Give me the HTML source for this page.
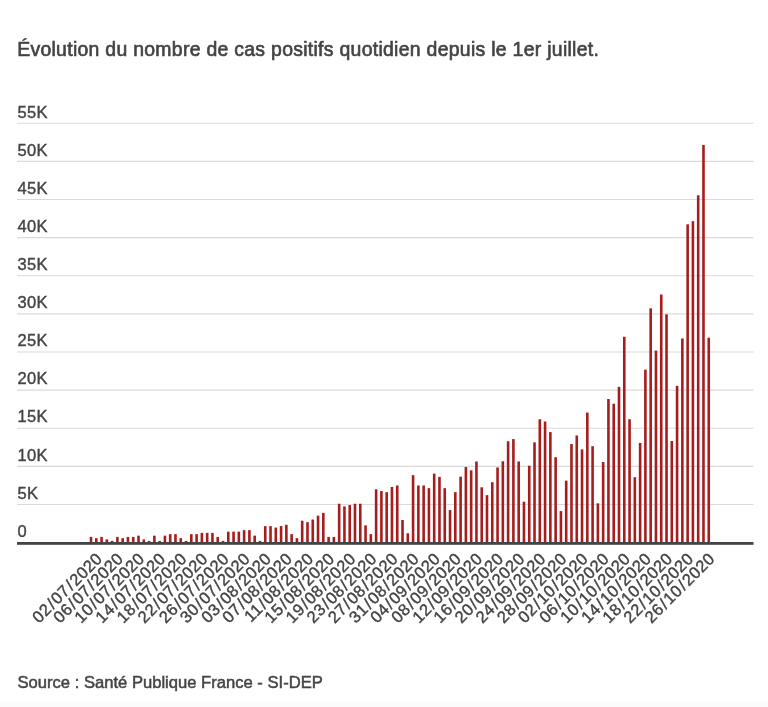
<!DOCTYPE html>
<html lang="fr">
<head>
<meta charset="utf-8">
<title>Évolution du nombre de cas positifs quotidien</title>
<style>
html,body{margin:0;padding:0;background:#fff;}
body{width:768px;height:707px;position:relative;overflow:hidden;font-family:"Liberation Sans",sans-serif;color:#444;}
.title{position:absolute;left:17.2px;top:36.7px;font-size:19.4px;line-height:24px;white-space:nowrap;color:#444;-webkit-text-stroke:0.65px #444;letter-spacing:0.3px;}
.src{position:absolute;left:17.5px;top:672.4px;font-size:16.6px;line-height:22px;white-space:nowrap;color:#444;-webkit-text-stroke:0.5px #444;letter-spacing:0px;}
.band{position:absolute;left:0;top:701px;width:768px;height:6px;background:#fbfbfb;}
svg{position:absolute;left:0;top:0;}
svg text{font-family:"Liberation Sans",sans-serif;fill:#444;stroke:#444;stroke-width:0.4px;}
.yl{font-size:16.5px;letter-spacing:0.3px;}
.xl{font-size:16.5px;}
</style>
</head>
<body>
<div class="title">Évolution du nombre de cas positifs quotidien depuis le 1er juillet.</div>
<svg width="768" height="707" viewBox="0 0 768 707">

<g stroke="#dadada" stroke-width="1.1">
<line x1="17" y1="123.30" x2="753.5" y2="123.30"/>
<line x1="17" y1="161.42" x2="753.5" y2="161.42"/>
<line x1="17" y1="199.54" x2="753.5" y2="199.54"/>
<line x1="17" y1="237.66" x2="753.5" y2="237.66"/>
<line x1="17" y1="275.78" x2="753.5" y2="275.78"/>
<line x1="17" y1="313.90" x2="753.5" y2="313.90"/>
<line x1="17" y1="352.02" x2="753.5" y2="352.02"/>
<line x1="17" y1="390.14" x2="753.5" y2="390.14"/>
<line x1="17" y1="428.26" x2="753.5" y2="428.26"/>
<line x1="17" y1="466.38" x2="753.5" y2="466.38"/>
<line x1="17" y1="504.50" x2="753.5" y2="504.50"/>
</g>
<g class="yl">
<text x="17.5" y="117.50">55K</text>
<text x="17.5" y="155.62">50K</text>
<text x="17.5" y="193.74">45K</text>
<text x="17.5" y="231.86">40K</text>
<text x="17.5" y="269.98">35K</text>
<text x="17.5" y="308.10">30K</text>
<text x="17.5" y="346.22">25K</text>
<text x="17.5" y="384.34">20K</text>
<text x="17.5" y="422.46">15K</text>
<text x="17.5" y="460.58">10K</text>
<text x="17.5" y="498.70">5K</text>
<text x="17.5" y="536.82">0</text>
</g>
<g fill="#a71d1d">
<rect x="89.70" y="536.90" width="2.6" height="5.75"/>
<rect x="94.98" y="538.15" width="2.6" height="4.50"/>
<rect x="100.26" y="536.90" width="2.6" height="5.75"/>
<rect x="105.54" y="539.40" width="2.6" height="3.25"/>
<rect x="110.82" y="540.90" width="2.6" height="1.75"/>
<rect x="116.10" y="536.90" width="2.6" height="5.75"/>
<rect x="121.38" y="538.15" width="2.6" height="4.50"/>
<rect x="126.66" y="536.90" width="2.6" height="5.75"/>
<rect x="131.94" y="536.90" width="2.6" height="5.75"/>
<rect x="137.22" y="535.65" width="2.6" height="7.00"/>
<rect x="142.50" y="539.40" width="2.6" height="3.25"/>
<rect x="147.78" y="540.90" width="2.6" height="1.75"/>
<rect x="153.06" y="535.65" width="2.6" height="7.00"/>
<rect x="158.34" y="540.90" width="2.6" height="1.75"/>
<rect x="163.62" y="535.65" width="2.6" height="7.00"/>
<rect x="168.90" y="534.15" width="2.6" height="8.50"/>
<rect x="174.18" y="534.15" width="2.6" height="8.50"/>
<rect x="179.46" y="538.15" width="2.6" height="4.50"/>
<rect x="184.74" y="540.90" width="2.6" height="1.75"/>
<rect x="190.02" y="534.15" width="2.6" height="8.50"/>
<rect x="195.30" y="534.15" width="2.6" height="8.50"/>
<rect x="200.58" y="532.90" width="2.6" height="9.75"/>
<rect x="205.86" y="532.90" width="2.6" height="9.75"/>
<rect x="211.14" y="532.90" width="2.6" height="9.75"/>
<rect x="216.42" y="536.90" width="2.6" height="5.75"/>
<rect x="221.70" y="540.90" width="2.6" height="1.75"/>
<rect x="226.98" y="531.65" width="2.6" height="11.00"/>
<rect x="232.26" y="531.65" width="2.6" height="11.00"/>
<rect x="237.54" y="531.65" width="2.6" height="11.00"/>
<rect x="242.82" y="530.15" width="2.6" height="12.50"/>
<rect x="248.10" y="530.15" width="2.6" height="12.50"/>
<rect x="253.38" y="535.65" width="2.6" height="7.00"/>
<rect x="258.66" y="540.90" width="2.6" height="1.75"/>
<rect x="263.94" y="526.15" width="2.6" height="16.50"/>
<rect x="269.22" y="526.15" width="2.6" height="16.50"/>
<rect x="274.50" y="527.55" width="2.6" height="15.10"/>
<rect x="279.78" y="526.05" width="2.6" height="16.60"/>
<rect x="285.06" y="524.75" width="2.6" height="17.90"/>
<rect x="290.34" y="534.15" width="2.6" height="8.50"/>
<rect x="295.62" y="538.15" width="2.6" height="4.50"/>
<rect x="300.90" y="520.75" width="2.6" height="21.90"/>
<rect x="306.18" y="522.15" width="2.6" height="20.50"/>
<rect x="311.46" y="519.55" width="2.6" height="23.10"/>
<rect x="316.74" y="515.65" width="2.6" height="27.00"/>
<rect x="322.02" y="512.90" width="2.6" height="29.75"/>
<rect x="327.30" y="536.90" width="2.6" height="5.75"/>
<rect x="332.58" y="536.90" width="2.6" height="5.75"/>
<rect x="337.86" y="503.75" width="2.6" height="38.90"/>
<rect x="343.14" y="506.40" width="2.6" height="36.25"/>
<rect x="348.42" y="505.05" width="2.6" height="37.60"/>
<rect x="353.70" y="503.75" width="2.6" height="38.90"/>
<rect x="358.98" y="503.75" width="2.6" height="38.90"/>
<rect x="364.26" y="525.35" width="2.6" height="17.30"/>
<rect x="369.54" y="534.15" width="2.6" height="8.50"/>
<rect x="374.82" y="489.35" width="2.6" height="53.30"/>
<rect x="380.10" y="491.05" width="2.6" height="51.60"/>
<rect x="385.38" y="492.15" width="2.6" height="50.50"/>
<rect x="390.66" y="486.95" width="2.6" height="55.70"/>
<rect x="395.94" y="485.45" width="2.6" height="57.20"/>
<rect x="401.22" y="519.95" width="2.6" height="22.70"/>
<rect x="406.50" y="533.25" width="2.6" height="9.40"/>
<rect x="411.78" y="475.15" width="2.6" height="67.50"/>
<rect x="417.06" y="485.45" width="2.6" height="57.20"/>
<rect x="422.34" y="485.45" width="2.6" height="57.20"/>
<rect x="427.62" y="488.15" width="2.6" height="54.50"/>
<rect x="432.90" y="473.62" width="2.6" height="69.03"/>
<rect x="438.18" y="476.86" width="2.6" height="65.79"/>
<rect x="443.46" y="488.16" width="2.6" height="54.49"/>
<rect x="448.74" y="510.06" width="2.6" height="32.59"/>
<rect x="454.02" y="492.18" width="2.6" height="50.47"/>
<rect x="459.30" y="476.66" width="2.6" height="65.99"/>
<rect x="464.58" y="466.99" width="2.6" height="75.66"/>
<rect x="469.86" y="470.33" width="2.6" height="72.32"/>
<rect x="475.14" y="461.51" width="2.6" height="81.14"/>
<rect x="480.42" y="487.30" width="2.6" height="55.35"/>
<rect x="485.70" y="495.13" width="2.6" height="47.52"/>
<rect x="490.98" y="482.19" width="2.6" height="60.46"/>
<rect x="496.26" y="467.44" width="2.6" height="75.21"/>
<rect x="501.54" y="461.26" width="2.6" height="81.39"/>
<rect x="506.82" y="441.24" width="2.6" height="101.41"/>
<rect x="512.10" y="439.08" width="2.6" height="103.57"/>
<rect x="517.38" y="461.45" width="2.6" height="81.20"/>
<rect x="522.66" y="501.69" width="2.6" height="40.96"/>
<rect x="527.94" y="465.73" width="2.6" height="76.92"/>
<rect x="533.22" y="442.33" width="2.6" height="100.32"/>
<rect x="538.50" y="419.24" width="2.6" height="123.41"/>
<rect x="543.78" y="421.52" width="2.6" height="121.13"/>
<rect x="549.06" y="432.10" width="2.6" height="110.55"/>
<rect x="554.34" y="457.21" width="2.6" height="85.44"/>
<rect x="559.62" y="511.07" width="2.6" height="31.58"/>
<rect x="564.90" y="480.67" width="2.6" height="61.98"/>
<rect x="570.18" y="444.07" width="2.6" height="98.58"/>
<rect x="575.46" y="435.48" width="2.6" height="107.17"/>
<rect x="580.74" y="449.39" width="2.6" height="93.26"/>
<rect x="586.02" y="412.55" width="2.6" height="130.10"/>
<rect x="591.30" y="446.20" width="2.6" height="96.45"/>
<rect x="596.58" y="503.33" width="2.6" height="39.32"/>
<rect x="601.86" y="462.06" width="2.6" height="80.59"/>
<rect x="607.14" y="399.01" width="2.6" height="143.64"/>
<rect x="612.42" y="403.72" width="2.6" height="138.93"/>
<rect x="617.70" y="386.84" width="2.6" height="155.81"/>
<rect x="622.98" y="336.77" width="2.6" height="205.88"/>
<rect x="628.26" y="419.20" width="2.6" height="123.45"/>
<rect x="633.54" y="477.21" width="2.6" height="65.44"/>
<rect x="638.82" y="442.94" width="2.6" height="99.71"/>
<rect x="644.10" y="369.65" width="2.6" height="173.00"/>
<rect x="649.38" y="308.33" width="2.6" height="234.32"/>
<rect x="654.66" y="350.59" width="2.6" height="192.06"/>
<rect x="659.94" y="294.54" width="2.6" height="248.11"/>
<rect x="665.22" y="314.31" width="2.6" height="228.34"/>
<rect x="670.50" y="441.03" width="2.6" height="101.62"/>
<rect x="675.78" y="385.86" width="2.6" height="156.79"/>
<rect x="681.06" y="338.45" width="2.6" height="204.20"/>
<rect x="686.34" y="224.32" width="2.6" height="318.33"/>
<rect x="691.62" y="221.19" width="2.6" height="321.46"/>
<rect x="696.90" y="195.31" width="2.6" height="347.34"/>
<rect x="702.18" y="145.00" width="2.6" height="397.65"/>
<rect x="707.46" y="337.73" width="2.6" height="204.92"/>
</g>
<rect x="17" y="542" width="736.5" height="2.8" fill="#444"/>
<g class="xl" text-anchor="end">
<text transform="translate(102.98,559.9) rotate(-45)" dx="0 .4 1.65 1.25 .4 1.65 1.25 .4 .4 .4">02/07/2020</text>
<text transform="translate(124.10,559.9) rotate(-45)" dx="0 .4 1.65 1.25 .4 1.65 1.25 .4 .4 .4">06/07/2020</text>
<text transform="translate(145.22,559.9) rotate(-45)" dx="0 .4 1.65 1.25 .4 1.65 1.25 .4 .4 .4">10/07/2020</text>
<text transform="translate(166.34,559.9) rotate(-45)" dx="0 .4 1.65 1.25 .4 1.65 1.25 .4 .4 .4">14/07/2020</text>
<text transform="translate(187.46,559.9) rotate(-45)" dx="0 .4 1.65 1.25 .4 1.65 1.25 .4 .4 .4">18/07/2020</text>
<text transform="translate(208.58,559.9) rotate(-45)" dx="0 .4 1.65 1.25 .4 1.65 1.25 .4 .4 .4">22/07/2020</text>
<text transform="translate(229.70,559.9) rotate(-45)" dx="0 .4 1.65 1.25 .4 1.65 1.25 .4 .4 .4">26/07/2020</text>
<text transform="translate(250.82,559.9) rotate(-45)" dx="0 .4 1.65 1.25 .4 1.65 1.25 .4 .4 .4">30/07/2020</text>
<text transform="translate(271.94,559.9) rotate(-45)" dx="0 .4 1.65 1.25 .4 1.65 1.25 .4 .4 .4">03/08/2020</text>
<text transform="translate(293.06,559.9) rotate(-45)" dx="0 .4 1.65 1.25 .4 1.65 1.25 .4 .4 .4">07/08/2020</text>
<text transform="translate(314.18,559.9) rotate(-45)" dx="0 .4 1.65 1.25 .4 1.65 1.25 .4 .4 .4">11/08/2020</text>
<text transform="translate(335.30,559.9) rotate(-45)" dx="0 .4 1.65 1.25 .4 1.65 1.25 .4 .4 .4">15/08/2020</text>
<text transform="translate(356.42,559.9) rotate(-45)" dx="0 .4 1.65 1.25 .4 1.65 1.25 .4 .4 .4">19/08/2020</text>
<text transform="translate(377.54,559.9) rotate(-45)" dx="0 .4 1.65 1.25 .4 1.65 1.25 .4 .4 .4">23/08/2020</text>
<text transform="translate(398.66,559.9) rotate(-45)" dx="0 .4 1.65 1.25 .4 1.65 1.25 .4 .4 .4">27/08/2020</text>
<text transform="translate(419.78,559.9) rotate(-45)" dx="0 .4 1.65 1.25 .4 1.65 1.25 .4 .4 .4">31/08/2020</text>
<text transform="translate(440.90,559.9) rotate(-45)" dx="0 .4 1.65 1.25 .4 1.65 1.25 .4 .4 .4">04/09/2020</text>
<text transform="translate(462.02,559.9) rotate(-45)" dx="0 .4 1.65 1.25 .4 1.65 1.25 .4 .4 .4">08/09/2020</text>
<text transform="translate(483.14,559.9) rotate(-45)" dx="0 .4 1.65 1.25 .4 1.65 1.25 .4 .4 .4">12/09/2020</text>
<text transform="translate(504.26,559.9) rotate(-45)" dx="0 .4 1.65 1.25 .4 1.65 1.25 .4 .4 .4">16/09/2020</text>
<text transform="translate(525.38,559.9) rotate(-45)" dx="0 .4 1.65 1.25 .4 1.65 1.25 .4 .4 .4">20/09/2020</text>
<text transform="translate(546.50,559.9) rotate(-45)" dx="0 .4 1.65 1.25 .4 1.65 1.25 .4 .4 .4">24/09/2020</text>
<text transform="translate(567.62,559.9) rotate(-45)" dx="0 .4 1.65 1.25 .4 1.65 1.25 .4 .4 .4">28/09/2020</text>
<text transform="translate(588.74,559.9) rotate(-45)" dx="0 .4 1.65 1.25 .4 1.65 1.25 .4 .4 .4">02/10/2020</text>
<text transform="translate(609.86,559.9) rotate(-45)" dx="0 .4 1.65 1.25 .4 1.65 1.25 .4 .4 .4">06/10/2020</text>
<text transform="translate(630.98,559.9) rotate(-45)" dx="0 .4 1.65 1.25 .4 1.65 1.25 .4 .4 .4">10/10/2020</text>
<text transform="translate(652.10,559.9) rotate(-45)" dx="0 .4 1.65 1.25 .4 1.65 1.25 .4 .4 .4">14/10/2020</text>
<text transform="translate(673.22,559.9) rotate(-45)" dx="0 .4 1.65 1.25 .4 1.65 1.25 .4 .4 .4">18/10/2020</text>
<text transform="translate(694.34,559.9) rotate(-45)" dx="0 .4 1.65 1.25 .4 1.65 1.25 .4 .4 .4">22/10/2020</text>
<text transform="translate(715.46,559.9) rotate(-45)" dx="0 .4 1.65 1.25 .4 1.65 1.25 .4 .4 .4">26/10/2020</text>
</g>
</svg>
<div class="src">Source : Santé Publique France - SI-DEP</div>
<div class="band"></div>
</body></html>
